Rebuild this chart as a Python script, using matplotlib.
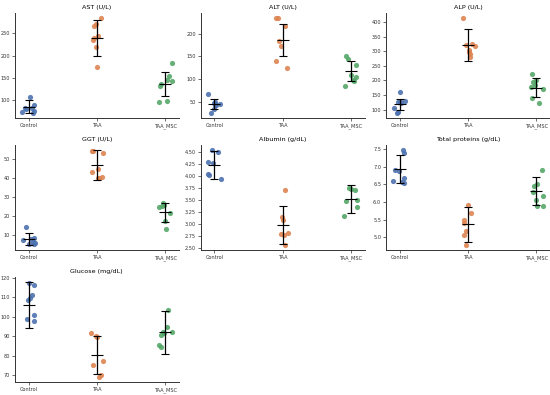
import numpy as np
import matplotlib
matplotlib.use('Agg')
import matplotlib.pyplot as plt

groups = ['Control', 'TAA', 'TAA_MSC']
colors = ['#4C72B0', '#DD8452', '#55A868']

titles = ['AST (U/L)', 'ALT (U/L)', 'ALP (U/L)', 'GGT (U/L)', 'Albumin (g/dL)',
          'Total proteins (g/dL)', 'Glucose (mg/dL)']

# individual animals
ast_control = [107, 88, 83, 82, 80, 76, 72, 70]
ast_taa = [285, 270, 266, 240, 235, 220, 175, 245]
ast_msc = [184, 153, 146, 143, 135, 132, 98, 95]

alt_control = [68, 50, 48, 46, 44, 43, 35, 25]
alt_taa = [235, 235, 218, 185, 172, 140, 125]
alt_msc = [151, 145, 131, 109, 105, 98, 96, 86]

alp_control = [160, 130, 128, 125, 122, 105, 90, 87]
alp_taa = [415, 325, 320, 318, 305, 298, 292, 282]
alp_msc = [222, 200, 195, 183, 178, 172, 140, 122]

ggt_control = [14.2, 8.2, 8.0, 7.5, 6.0, 5.5, 5.3, 5.0]
ggt_taa = [54.5, 54.2, 53.5, 45, 43, 40.5, 40, 39.8]
ggt_msc = [27, 26, 25.5, 24.5, 21.5, 17.5, 13.2]

alb_control = [4.55, 4.50, 4.30, 4.27, 4.04, 4.02, 3.93]
alb_taa = [3.70, 3.15, 3.08, 2.80, 2.78, 2.77, 2.55]
alb_msc = [3.75, 3.73, 3.71, 3.50, 3.48, 3.35, 3.17]

tp_control = [7.48, 7.38, 6.92, 6.88, 6.67, 6.60, 6.57, 6.55]
tp_taa = [5.93, 5.70, 5.48, 5.42, 5.18, 5.07, 4.78]
tp_msc = [6.90, 6.52, 6.45, 6.28, 6.18, 6.05, 5.90, 5.88]

glu_control = [117.2, 116.5, 111, 109.8, 108.5, 100.8, 99, 97.8]
glu_taa = [91.5, 90, 89.5, 77.5, 75, 70, 69]
glu_msc = [103.5, 95, 92.3, 92.1, 91.8, 90.5, 85.5, 84.5]

# mean and SD as drawn in the figure
ast_mean, ast_sd = [85, 240, 135.5], [15, 40, 27.5]
alt_mean, alt_sd = [46, 187, 118], [10.5, 35, 22]
alp_mean, alp_sd = [118.5, 323, 175.5], [18.5, 55, 32.5]
ggt_mean, ggt_sd = [7.75, 47, 22], [3.25, 8, 5]
alb_mean, alb_sd = [4.225, 2.97, 3.525], [0.295, 0.40, 0.295]
tp_mean, tp_sd = [6.94, 5.375, 6.32], [0.39, 0.495, 0.40]
glu_mean, glu_sd = [106, 80.25, 92], [12, 9.75, 11]

yticks = [
    [100, 150, 200, 250],
    [50, 100, 150, 200],
    [100, 150, 200, 250, 300, 350, 400],
    [10, 20, 30, 40, 50],
    [2.50, 2.75, 3.00, 3.25, 3.50, 3.75, 4.00, 4.25, 4.50],
    [5.0, 5.5, 6.0, 6.5, 7.0, 7.5],
    [70, 80, 90, 100, 110, 120],
]
yfmt = ['%d', '%d', '%d', '%d', '%.2f', '%.1f', '%d']

panels = [
    ([ast_control, ast_taa, ast_msc], ast_mean, ast_sd),
    ([alt_control, alt_taa, alt_msc], alt_mean, alt_sd),
    ([alp_control, alp_taa, alp_msc], alp_mean, alp_sd),
    ([ggt_control, ggt_taa, ggt_msc], ggt_mean, ggt_sd),
    ([alb_control, alb_taa, alb_msc], alb_mean, alb_sd),
    ([tp_control, tp_taa, tp_msc], tp_mean, tp_sd),
    ([glu_control, glu_taa, glu_msc], glu_mean, glu_sd),
]

fig = plt.figure(figsize=(5.5, 3.95), dpi=100)
lefts = [0.027, 0.365, 0.702]
bottoms = [0.701, 0.367, 0.033]
w, h = 0.298, 0.266

rng = np.random.default_rng(7)

for i, (data, means, sds) in enumerate(panels):
    ax = fig.add_axes([lefts[i % 3], bottoms[i // 3], w, h])
    for j, vals in enumerate(data):
        xs = j + rng.uniform(-0.1, 0.1, len(vals))
        ax.scatter(xs, vals, s=14, color=colors[j], alpha=0.9, lw=0, zorder=2)
    ax.errorbar(range(3), means, yerr=sds, fmt='_', color='black', ls='none',
                ms=9, mew=0.8, elinewidth=0.9, capsize=3, capthick=0.9, zorder=3)
    ax.margins(y=0.05)
    ax.autoscale_view()
    lo, hi = ax.get_ylim()
    ax.set_xlim(-0.2, 2.2)
    ax.set_xticks(range(3))
    ax.set_xticklabels(groups)
    ax.set_yticks(yticks[i])
    ax.set_yticklabels([yfmt[i] % t for t in yticks[i]])
    ax.set_ylim(lo, hi)
    ax.tick_params(labelsize=3.6, length=2, width=0.5, pad=1.5, colors='#333333')
    ax.set_title(titles[i], fontsize=4.6, pad=3)
    for s in ['top', 'right']:
        ax.spines[s].set_visible(False)
    for s in ['left', 'bottom']:
        ax.spines[s].set_linewidth(0.7)
        ax.spines[s].set_color('#333333')

fig.savefig('out.png', dpi=100)
